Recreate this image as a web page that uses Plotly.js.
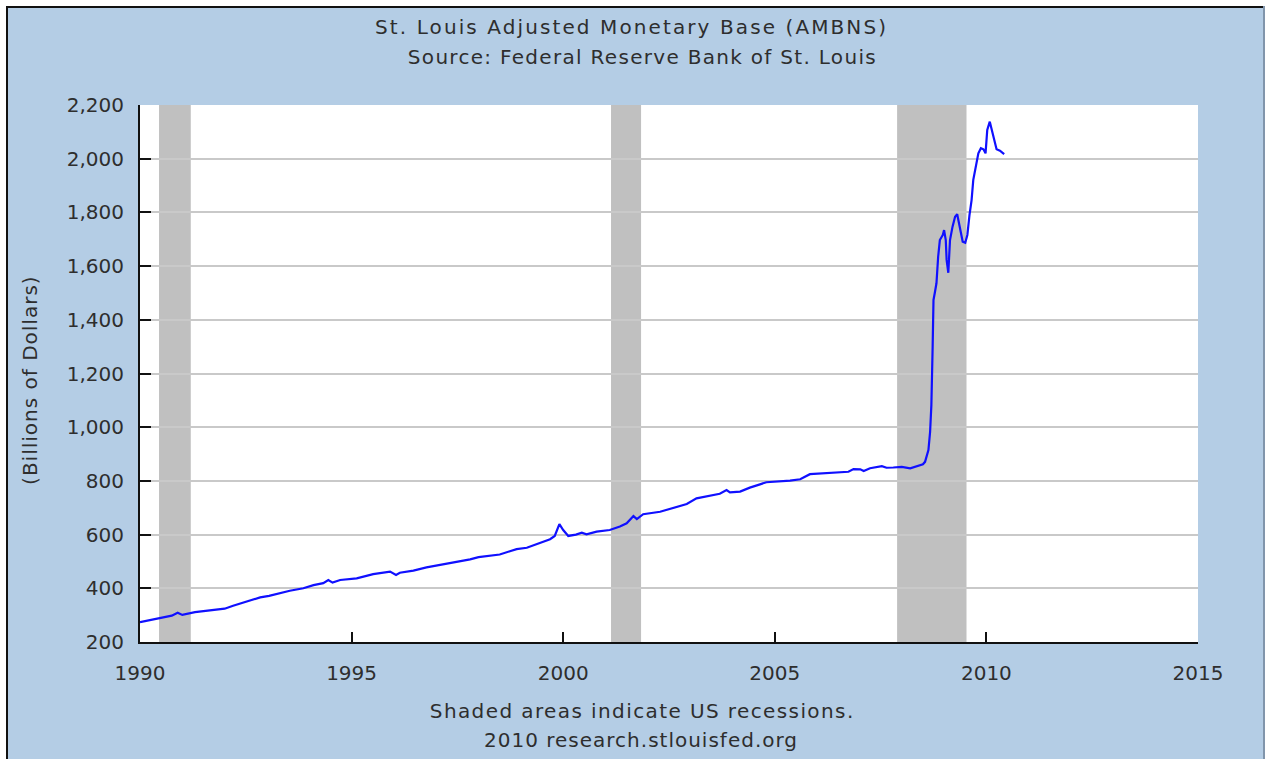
<!DOCTYPE html>
<html>
<head>
<meta charset="utf-8">
<script src="https://cdn.plot.ly/plotly-3.0.1.min.js"></script>
<style>
  html, body { margin: 0; padding: 0; background: #ffffff; width: 1265px; height: 759px; overflow: hidden; }
  #chart { position: absolute; left: 8px; top: 8px; width: 1255px; height: 751px; }
  .ln { position: absolute; }
  .annotation-text { letter-spacing: 1px; }
  g.annotation[data-index="0"] .annotation-text { letter-spacing: 2.1px; }
  g.annotation[data-index="1"] .annotation-text { letter-spacing: 1.3px; }
  g.annotation[data-index="2"] .annotation-text { letter-spacing: 1.4px; }
</style>
</head>
<body>
<div class="ln" style="left:6px;top:6px;width:2px;height:753px;background:#111;"></div>
<div class="ln" style="left:6px;top:6px;width:1259px;height:2px;background:#111;"></div>
<div id="chart"></div>
<div class="ln" style="left:1263px;top:6px;width:2px;height:753px;background:#8195ab;"></div>
<script>
// Dates (decimal years) and values, billions of dollars
const dates = [
  1990.00, 1990.20, 1990.47, 1990.75, 1990.89, 1991.00, 1991.30, 1991.73, 1992.00, 1992.20,
  1992.45, 1992.84, 1993.05, 1993.31, 1993.54, 1993.86, 1994.10, 1994.33, 1994.45, 1994.55,
  1994.73, 1995.12, 1995.51, 1995.91, 1996.05, 1996.14, 1996.46, 1996.77, 1997.00, 1997.25,
  1997.48, 1997.80, 1998.00, 1998.19, 1998.50, 1998.74, 1998.90, 1999.14, 1999.45, 1999.69,
  1999.80, 1999.91, 2000.00, 2000.12, 2000.30, 2000.44, 2000.55, 2000.79, 2001.10, 2001.34,
  2001.50, 2001.66, 2001.74, 2001.89, 2002.29, 2002.60, 2002.92, 2003.15, 2003.47, 2003.70,
  2003.86, 2003.94, 2004.18, 2004.41, 2004.65, 2004.80, 2005.36, 2005.60, 2005.83, 2006.15,
  2006.47, 2006.74, 2006.86, 2007.02, 2007.10, 2007.25, 2007.53, 2007.64, 2007.80, 2008.00,
  2008.20, 2008.35, 2008.50, 2008.55, 2008.63, 2008.67, 2008.70, 2008.73, 2008.75, 2008.78,
  2008.82, 2008.86, 2008.90, 2008.97, 2009.00, 2009.04, 2009.06, 2009.10, 2009.14, 2009.20,
  2009.26, 2009.31, 2009.38, 2009.44, 2009.50, 2009.55, 2009.60, 2009.65, 2009.69, 2009.76,
  2009.81, 2009.87, 2009.93, 2009.98, 2010.02, 2010.08, 2010.14, 2010.20, 2010.24, 2010.32,
  2010.42
];
const ambns = [
  274, 280, 288, 298, 309, 301, 311, 319, 324, 335,
  348, 366, 372, 382, 391, 400, 412, 419, 431, 421,
  431, 437, 453, 462, 450, 458, 466, 478, 485, 490,
  499, 508, 516, 520, 526, 538, 546, 551, 568, 583,
  595, 639, 617, 595, 600, 607, 601, 611, 617, 630,
  642, 669, 658, 676, 685, 698, 714, 735, 744, 752,
  766, 757, 760, 775, 787, 795, 801, 806, 825, 828,
  832, 834, 844, 843, 837, 847, 855, 849, 850, 852,
  847, 855, 862, 871, 915, 983, 1083, 1300, 1474, 1500,
  1536, 1635, 1697, 1716, 1734, 1697, 1623, 1575, 1697, 1747,
  1784, 1793, 1734, 1691, 1687, 1716, 1790, 1846, 1921, 1976,
  2020, 2039, 2035, 2020, 2107, 2138, 2100, 2063, 2035, 2030,
  2017
];
// Recession periods (start, end) in decimal years
const recStart = [1990.45, 2001.13, 2007.89];
const recEnd   = [1991.20, 2001.84, 2009.53];

const yTicks = [200, 400, 600, 800, 1000, 1200, 1400, 1600, 1800, 2000, 2200];
const xTicks = [1990, 1995, 2000, 2005, 2010, 2015];

const titleLine1 = "St. Louis Adjusted Monetary Base (AMBNS)";
const titleLine2 = "Source: Federal Reserve Bank of St. Louis";
const noteLine1 = "Shaded areas indicate US recessions.";
const noteLine2 = "2010 research.stlouisfed.org";
const yTitle = "(Billions of Dollars)";

const txtColor = "#2e2e2e";
const fontFam = "DejaVu Sans, Verdana, sans-serif";

const shapes = recStart.map((s, i) => ({
  type: "rect", xref: "x", yref: "paper", x0: s, x1: recEnd[i], y0: 0, y1: 1,
  fillcolor: "#c0c0c0", line: {width: 0}, layer: "between"
}));

function ann(text, x, y, extra) {
  return Object.assign({
    text: text, xref: "paper", yref: "paper", x: x, y: y,
    xanchor: "center", yanchor: "middle", showarrow: false,
    font: {family: fontFam, size: 20, color: txtColor}
  }, extra || {});
}

const layout = {
  width: 1255, height: 751,
  margin: {l: 132, r: 65, t: 97, b: 117, pad: 0},
  paper_bgcolor: "#b4cde5",
  plot_bgcolor: "#ffffff",
  showlegend: false,
  font: {family: fontFam, size: 20, color: txtColor},
  xaxis: {
    range: [1990, 2015], tickvals: xTicks, ticktext: xTicks.map(String),
    showgrid: false, zeroline: false,
    showline: true, linecolor: "#111", linewidth: 2,
    ticks: "inside", ticklen: 10, tickwidth: 2, tickcolor: "#111",
    ticklabelstandoff: 12,
    tickfont: {family: fontFam, size: 20, color: txtColor}, fixedrange: true
  },
  yaxis: {
    range: [200, 2200], tickvals: yTicks, tickformat: ",d",
    showgrid: true, gridcolor: "#c9c9c9", gridwidth: 2, zeroline: false,
    showline: true, linecolor: "#111", linewidth: 2,
    ticks: "inside", ticklen: 11, tickwidth: 2, tickcolor: "#111",
    ticklabelstandoff: 10,
    tickfont: {family: fontFam, size: 20, color: txtColor}, fixedrange: true
  },
  shapes: shapes,
  annotations: [
    ann(titleLine1, 0.465, 1.1453),
    ann(titleLine2, 0.4745, 1.0894),
    ann(noteLine1, 0.4745, -0.1285),
    ann(noteLine2, 0.4735, -0.1825),
    ann(yTitle, -0.104, 0.488, {textangle: -90})
  ]
};

const trace = {
  x: dates, y: ambns, type: "scatter", mode: "lines",
  line: {color: "#1010ff", width: 2.2}, hoverinfo: "skip"
};

Plotly.newPlot("chart", [trace], layout, {displayModeBar: false, staticPlot: true});
</script>
</body>
</html>
